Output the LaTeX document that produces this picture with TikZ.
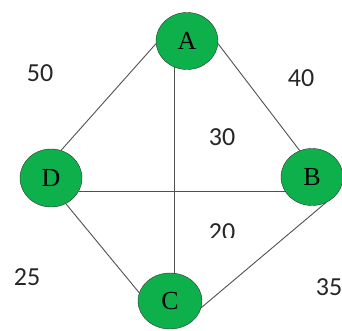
\documentclass[tikz,border=0pt]{standalone}
\usepackage{fontspec}
\setmainfont{Liberation Serif}
\newfontfamily\labelfont{Carlito}
\usepackage{xcolor}
\usepackage{tikz}
\usetikzlibrary{shapes.geometric,backgrounds}
\definecolor{vertgreen}{HTML}{0DB04B}
\definecolor{edgegray}{HTML}{505050}

\begin{document}
\begin{tikzpicture}[x=1pt, y=-1pt,
    vertex/.style={draw=black!80, thin, ellipse, fill=vertgreen, minimum width=62pt, minimum height=57pt, inner sep=0pt, font=\fontsize{26}{26}\selectfont},
    edge/.style={edgegray, line width=0.9pt},
    weight/.style={font=\labelfont\fontsize{26}{26}\selectfont, text=black!85}]
  \useasboundingbox (0,0) rectangle (342,331);

  \node[vertex] (A) at (187,41) {A};
  \node[vertex] (B) at (312,177) {B};
  \node[vertex, minimum width=64pt, minimum height=56pt] (C) at (170,301) {C};
  \node[vertex, minimum height=58pt] (D) at (51,178) {D};

  \begin{scope}[on background layer]
    \draw[edge] (A.185) -- (D.70);
    \draw[edge] (A.-5) -- (B.115);
    \draw[edge] (D.-60) -- (C.165);
    \draw[edge] (B.-62) -- (C.-12);
    \draw[edge] (A.245) -- (A.245 |- C.center);
    \draw[edge] (D.-25) -- (D.-25 -| B.center);
  \end{scope}

  \node[weight] (wAD) at (40,73) {50};
  \node[weight] (wAB) at (301,78) {40};
  \node[weight] (wAC) at (222,137) {30};
  \begin{scope}
    \clip (200,215) rectangle (245,237);
    \node[weight] (wDB) at (222,232) {20};
  \end{scope}
  \node[weight] (wDC) at (27,277) {25};
  \node[weight] (wBC) at (329,287) {35};
\end{tikzpicture}
\end{document}
